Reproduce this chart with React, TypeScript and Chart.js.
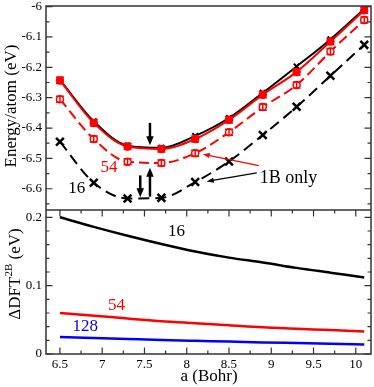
import React, { useEffect, useRef } from 'react';
import { Chart, registerables } from 'chart.js';
Chart.register(...registerables);

// ---- data ----
const latticeA = [6.5, 6.9, 7.3, 7.7, 8.1, 8.5, 8.9, 9.3, 9.7, 10.1];
const energy16Full = [-6.241, -6.378, -6.458, -6.465, -6.426, -6.367, -6.284, -6.197, -6.108, -6.008];
const energy54Full = [-6.243, -6.383, -6.461, -6.469, -6.436, -6.373, -6.290, -6.215, -6.115, -6.012];
const err54Full = [0.01, 0.01, 0.01, 0.01, 0.01, 0.01, 0.01, 0.01, 0.01, 0.01];
const energy54OneB = [-6.305, -6.436, -6.511, -6.515, -6.483, -6.414, -6.331, -6.258, -6.148, -6.044];
const err54OneB = [0.01, 0.01, 0.01, 0.01, 0.01, 0.01, 0.01, 0.01, 0.01, 0.01];
const energy16OneB = [-6.445, -6.580, -6.632, -6.630, -6.578, -6.510, -6.423, -6.330, -6.228, -6.126];
const delta16 = [0.200, 0.186, 0.173, 0.161, 0.150, 0.141, 0.134, 0.126, 0.119, 0.112];
const delta54 = [0.060, 0.056, 0.052, 0.048, 0.045, 0.042, 0.039, 0.037, 0.035, 0.033];
const delta128 = [0.025, 0.0235, 0.022, 0.0205, 0.0193, 0.0182, 0.017, 0.016, 0.015, 0.014];
const xTickValues = [6.5, 7, 7.5, 8, 8.5, 9, 9.5, 10];
const xTickLabels = ['6.5', '7', '7.5', '8', '8.5', '9', '9.5', '10'];
const energyTicks = [-6, -6.1, -6.2, -6.3, -6.4, -6.5, -6.6];
const energyTickLabels = ['-6', '-6.1', '-6.2', '-6.3', '-6.4', '-6.5', '-6.6'];
const deltaTicks = [0, 0.1, 0.2];
const deltaTickLabels = ['0', '0.1', '0.2'];

// annotations (data coordinates)
const topArrows = [
  { x1: 7.565, y1: -6.383, x2: 7.565, y2: -6.457, color: 'black', w: 2.5 },
  { x1: 7.45, y1: -6.556, x2: 7.45, y2: -6.628, color: 'black', w: 2.5 },
  { x1: 7.565, y1: -6.626, x2: 7.565, y2: -6.531, color: 'black', w: 2.5 },
  { x1: 8.852, y1: -6.524, x2: 8.19, y2: -6.486, color: 'red', w: 1.2 },
  { x1: 8.828, y1: -6.548, x2: 8.236, y2: -6.576, color: 'black', w: 1.2 },
];
const topLabels = [
  { text: '16', x: 6.70, y: -6.600, color: 'black', align: 'center', size: 17 },
  { text: '54', x: 7.08, y: -6.531, color: 'red', align: 'center', size: 17 },
  { text: '1B only', x: 8.864, y: -6.564, color: 'black', align: 'left', size: 18 },
];
const bottomLabels = [
  { text: '16', x: 7.88, y: 0.1786, color: 'black', align: 'center', size: 17 },
  { text: '54', x: 7.17, y: 0.0703, color: 'red', align: 'center', size: 17 },
  { text: '128', x: 6.80, y: 0.0395, color: 'blue', align: 'center', size: 17 },
];

const SERIF = "'Liberation Serif', 'Times New Roman', serif";
Chart.defaults.font.family = SERIF;
const X_MIN = 6.335;
const X_MAX = 10.18;

const pts = (ys: number[]) => latticeA.map((x, i) => ({ x, y: ys[i] }));

const framePlugin = {
  id: 'frame',
  afterDraw(chart: any, _args: any, opts: any) {
    const { ctx, chartArea: a, scales } = chart;
    ctx.save();
    ctx.strokeStyle = '#333';
    ctx.lineWidth = 1.5;
    ctx.strokeRect(a.left, a.top, a.right - a.left, a.bottom - a.top);
    ctx.lineWidth = 1.2;
    ctx.beginPath();
    const yTicks = (step: number, len: number) => {
      const ys = scales.y;
      const start = Math.ceil(ys.min / step - 1e-6);
      const end = Math.floor(ys.max / step + 1e-6);
      for (let k = start; k <= end; k++) {
        const py = ys.getPixelForValue(k * step);
        ctx.moveTo(a.left, py); ctx.lineTo(a.left + len, py);
        ctx.moveTo(a.right, py); ctx.lineTo(a.right - len, py);
      }
    };
    const xTicks = (step: number, len: number) => {
      const xs = scales.x;
      const start = Math.ceil(xs.min / step - 1e-6);
      const end = Math.floor(xs.max / step + 1e-6);
      for (let k = start; k <= end; k++) {
        const px = xs.getPixelForValue(k * step);
        ctx.moveTo(px, a.bottom); ctx.lineTo(px, a.bottom - len);
        ctx.moveTo(px, a.top); ctx.lineTo(px, a.top + len);
      }
    };
    yTicks(opts.yMinor, 3.5);
    yTicks(opts.yMajor, 6.5);
    if (opts.xTicks) {
      xTicks(0.25, 3.5);
      xTicks(0.5, 6.5);
    }
    ctx.stroke();
    ctx.restore();
  },
};

const errorBarPlugin = {
  id: 'errbars',
  afterDatasetsDraw(chart: any) {
    const { ctx, scales } = chart;
    ctx.save();
    chart.data.datasets.forEach((ds: any) => {
      if (!ds.errorBars) return;
      ctx.strokeStyle = ds.borderColor;
      ctx.lineWidth = 1.5;
      ctx.beginPath();
      ds.data.forEach((p: any, i: number) => {
        const e = ds.errorBars[i];
        const px = scales.x.getPixelForValue(p.x);
        const y1 = scales.y.getPixelForValue(p.y + e);
        const y2 = scales.y.getPixelForValue(p.y - e);
        ctx.moveTo(px, y1); ctx.lineTo(px, y2);
        ctx.moveTo(px - 4, y1); ctx.lineTo(px + 4, y1);
        ctx.moveTo(px - 4, y2); ctx.lineTo(px + 4, y2);
      });
      ctx.stroke();
    });
    ctx.restore();
  },
};

function drawArrow(ctx: any, x1: number, y1: number, x2: number, y2: number, w: number, color: string) {
  const head = w > 2 ? 9 : 7;
  const hw = w > 2 ? 7.5 : 5;
  const ang = Math.atan2(y2 - y1, x2 - x1);
  const bx = x2 - head * Math.cos(ang);
  const by = y2 - head * Math.sin(ang);
  ctx.strokeStyle = color;
  ctx.fillStyle = color;
  ctx.lineWidth = w;
  ctx.beginPath();
  ctx.moveTo(x1, y1);
  ctx.lineTo(bx + Math.cos(ang), by + Math.sin(ang));
  ctx.stroke();
  ctx.beginPath();
  ctx.moveTo(x2, y2);
  ctx.lineTo(bx + (hw / 2) * Math.sin(ang), by - (hw / 2) * Math.cos(ang));
  ctx.lineTo(bx - (hw / 2) * Math.sin(ang), by + (hw / 2) * Math.cos(ang));
  ctx.closePath();
  ctx.fill();
}

const annotationPlugin = {
  id: 'annot',
  afterDatasetsDraw(chart: any, _args: any, opts: any) {
    const { ctx, scales } = chart;
    ctx.save();
    (opts.arrows || []).forEach((ar: any) => {
      drawArrow(
        ctx,
        scales.x.getPixelForValue(ar.x1), scales.y.getPixelForValue(ar.y1),
        scales.x.getPixelForValue(ar.x2), scales.y.getPixelForValue(ar.y2),
        ar.w, ar.color
      );
    });
    (opts.labels || []).forEach((lb: any) => {
      ctx.font = `${lb.size}px ${SERIF}`;
      ctx.fillStyle = lb.color;
      ctx.textAlign = lb.align;
      ctx.textBaseline = 'middle';
      ctx.fillText(lb.text, scales.x.getPixelForValue(lb.x), scales.y.getPixelForValue(lb.y));
    });
    ctx.restore();
  },
};

const titlePlugin = {
  id: 'titles',
  afterDraw(chart: any, _args: any, opts: any) {
    const { ctx } = chart;
    ctx.save();
    ctx.fillStyle = 'black';
    ctx.textBaseline = 'middle';
    if (opts.yTitle) {
      const t = opts.yTitle;
      ctx.translate(t.x, t.y);
      ctx.rotate(-Math.PI / 2);
      const parts = t.parts as { text: string; size: number; dy: number }[];
      let total = 0;
      parts.forEach((p) => { ctx.font = `${p.size}px ${SERIF}`; total += ctx.measureText(p.text).width; });
      let cx = -total / 2;
      ctx.textAlign = 'left';
      parts.forEach((p) => {
        ctx.font = `${p.size}px ${SERIF}`;
        ctx.fillText(p.text, cx, p.dy);
        cx += ctx.measureText(p.text).width;
      });
      ctx.setTransform(1, 0, 0, 1, 0, 0);
    }
    if (opts.xTitle) {
      ctx.font = `17px ${SERIF}`;
      ctx.textAlign = 'center';
      ctx.fillText(opts.xTitle.text, opts.xTitle.x, opts.xTitle.y);
    }
    ctx.restore();
  },
};

const noPad = (s: any) => {
  s.paddingTop = 0; s.paddingBottom = 0; s.paddingLeft = 0; s.paddingRight = 0;
};

const yAxisBase = (min: number, max: number, ticks: number[], labels: string[]) => ({
  type: 'linear' as const,
  min,
  max,
  grid: { display: false, drawTicks: false },
  border: { display: false },
  ticks: {
    font: { family: SERIF, size: 13 },
    color: 'black',
    padding: 4,
    callback: (_v: any, i: number) => labels[i],
  },
  afterBuildTicks: (s: any) => { s.ticks = ticks.map((v) => ({ value: v })); },
  afterFit: (s: any) => { s.width = 46; noPad(s); },
});

export default function App() {
  const topRef = useRef<HTMLCanvasElement>(null);
  const botRef = useRef<HTMLCanvasElement>(null);

  useEffect(() => {
    const top = new Chart(topRef.current as HTMLCanvasElement, {
      type: 'line',
      data: {
        datasets: [
          {
            label: '16 full', data: pts(energy16Full), borderColor: 'black', backgroundColor: 'black',
            borderWidth: 2, cubicInterpolationMode: 'monotone', pointStyle: 'crossRot', pointRadius: 4,
            pointBorderWidth: 2, order: 1,
          } as any,
          {
            label: '54 full', data: pts(energy54Full), borderColor: 'red', backgroundColor: 'red',
            borderWidth: 2, cubicInterpolationMode: 'monotone', pointStyle: 'circle', pointRadius: 3.5,
            pointBorderWidth: 1.5, errorBars: err54Full, order: 0,
          } as any,
          {
            label: '54 1B', data: pts(energy54OneB), borderColor: 'red', backgroundColor: 'white',
            borderWidth: 2, borderDash: [10, 5], cubicInterpolationMode: 'monotone', pointStyle: 'circle',
            pointRadius: 3.5, pointBorderWidth: 1.5, errorBars: err54OneB, order: 2,
          } as any,
          {
            label: '16 1B', data: pts(energy16OneB), borderColor: 'black', backgroundColor: 'black',
            borderWidth: 2, borderDash: [11, 6], cubicInterpolationMode: 'monotone', pointStyle: 'crossRot',
            pointRadius: 5.5, pointBorderWidth: 2.5, order: 3,
          } as any,
        ],
      },
      options: {
        responsive: false,
        animation: false,
        devicePixelRatio: 1,
        layout: { autoPadding: false, padding: { top: 6, right: 3, left: 0, bottom: 0 } },
        scales: {
          x: { type: 'linear', min: X_MIN, max: X_MAX, display: false },
          y: yAxisBase(-6.67, -5.998, energyTicks, energyTickLabels) as any,
        },
        plugins: {
          legend: { display: false },
          tooltip: { enabled: false },
          frame: { yMajor: 0.1, yMinor: 0.05, xTicks: false },
          annot: { arrows: topArrows, labels: topLabels },
          titles: {
            yTitle: { x: 12, y: 106, parts: [{ text: 'Energy/atom (eV)', size: 17, dy: 0 }] },
          },
        } as any,
      },
      plugins: [framePlugin, errorBarPlugin, annotationPlugin, titlePlugin],
    });

    const bot = new Chart(botRef.current as HTMLCanvasElement, {
      type: 'line',
      data: {
        datasets: [
          { label: '16', data: pts(delta16), borderColor: 'black', borderWidth: 2.5, pointRadius: 0, cubicInterpolationMode: 'monotone' } as any,
          { label: '54', data: pts(delta54), borderColor: 'red', borderWidth: 2.5, pointRadius: 0, cubicInterpolationMode: 'monotone' } as any,
          { label: '128', data: pts(delta128), borderColor: 'blue', borderWidth: 2.5, pointRadius: 0, cubicInterpolationMode: 'monotone' } as any,
        ],
      },
      options: {
        responsive: false,
        animation: false,
        devicePixelRatio: 1,
        layout: { autoPadding: false, padding: { top: 0, right: 3, left: 0, bottom: 0 } },
        scales: {
          x: {
            type: 'linear', min: X_MIN, max: X_MAX,
            grid: { display: false, drawTicks: false },
            border: { display: false },
            ticks: {
              font: { family: SERIF, size: 13 }, color: 'black', padding: 3,
              callback: (_v: any, i: number) => xTickLabels[i],
            },
            afterBuildTicks: (s: any) => { s.ticks = xTickValues.map((v) => ({ value: v })); },
            afterFit: (s: any) => { s.height = 33; noPad(s); },
          } as any,
          y: yAxisBase(0, 0.2107, deltaTicks, deltaTickLabels) as any,
        },
        plugins: {
          legend: { display: false },
          tooltip: { enabled: false },
          frame: { yMajor: 0.1, yMinor: 0.02, xTicks: true },
          annot: { arrows: [], labels: bottomLabels },
          titles: {
            yTitle: {
              x: 16, y: 64,
              parts: [
                { text: '\u0394DFT', size: 17, dy: 0 },
                { text: '2B', size: 11, dy: -7 },
                { text: ' (eV)', size: 17, dy: 0 },
              ],
            },
            xTitle: { text: 'a (Bohr)', x: 209, y: 167 },
          },
        } as any,
      },
      plugins: [framePlugin, annotationPlugin, titlePlugin],
    });

    return () => { top.destroy(); bot.destroy(); };
  }, []);

  return (
    <div style={{ position: 'absolute', left: 0, top: 0, width: 374, height: 387, background: '#fff' }}>
      <canvas ref={topRef} width={374} height={210} style={{ position: 'absolute', left: 0, top: 0, width: 374, height: 210 }} />
      <canvas ref={botRef} width={374} height={177} style={{ position: 'absolute', left: 0, top: 210, width: 374, height: 177 }} />
    </div>
  );
}
